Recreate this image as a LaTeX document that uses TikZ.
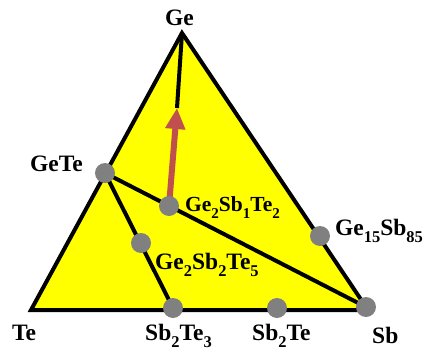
\documentclass[tikz,border=0pt]{standalone}
\usepackage{fontspec}
\setmainfont{Liberation Serif}
\usetikzlibrary{arrows.meta}
\definecolor{triyellow}{RGB}{255,255,0}
\definecolor{dotgray}{RGB}{128,128,128}
\definecolor{arrowred}{RGB}{192,80,77}
\newcommand\subn[1]{\raisebox{-0.34em}{\scalebox{0.7}{#1}}}
\tikzset{
  lbl/.style={font=\fontsize{23.5}{25}\selectfont\bfseries, inner sep=0pt, anchor=base west},
  lblsmall/.style={lbl, font=\fontsize{21.5}{23}\selectfont\bfseries},
  dot/.style={circle, fill=dotgray, inner sep=0pt, minimum size=20pt},
  edge/.style={draw=black, line width=4pt},
}
\begin{document}
\begin{tikzpicture}[x=1pt,y=-1pt]
\useasboundingbox (0,0) rectangle (424,354);
% vertices
\coordinate (vGe) at (182,33);
\coordinate (vTe) at (31,310);
\coordinate (vSb) at (368,310);
\coordinate (tip) at (177,108);
\filldraw[fill=triyellow, draw=black, line width=4pt, line join=miter] (vGe) -- (vTe) -- (vSb) -- cycle;
% dot positions
\coordinate (pGeTe) at (105,173);
\coordinate (pGST1) at (169,206);
\coordinate (pGST5) at (141,243);
\coordinate (pSbTe3) at (173,308);
\coordinate (pSbTe) at (277,308);
\coordinate (pSb) at (366,307);
\coordinate (pGeSb) at (320,236);
% tie lines
\draw[edge] (pGeTe) -- (pSb);
\draw[edge] (pGeTe) -- (pSbTe3);
\draw[edge] (vGe) -- (tip);
\draw[arrowred, line width=6pt, -{Triangle[width=19pt,length=21pt]}] (pGST1) -- (tip);
% dots
\node[dot] (GeTe) at (pGeTe) {};
\node[dot] (GST1) at (pGST1) {};
\node[dot] (GST5) at (pGST5) {};
\node[dot] (SbTe3) at (pSbTe3) {};
\node[dot] (SbTe) at (pSbTe) {};
\node[dot] (Sb) at (pSb) {};
\node[dot] (GeSb) at (pGeSb) {};
% labels
\node[lbl] (lGe) at (165,25) {Ge};
\node[lbl] (lGeTe) at (30,171) {GeTe};
\node[lblsmall] (lGST1) at (185,211) {Ge\subn{2}Sb\subn{1}Te\subn{2}};
\node[lbl] (lGST5) at (155,269) {Ge\subn{2}Sb\subn{2}Te\subn{5}};
\node[lbl] (lGeSb) at (335,235) {Ge\subn{15}Sb\subn{85}};
\node[lbl] (lTe) at (12,340) {Te};
\node[lbl] (lSbTe3) at (145,340) {Sb\subn{2}Te\subn{3}};
\node[lbl] (lSbTe) at (252,340) {Sb\subn{2}Te};
\node[lbl] (lSb) at (372,343) {Sb};
\end{tikzpicture}
\end{document}
